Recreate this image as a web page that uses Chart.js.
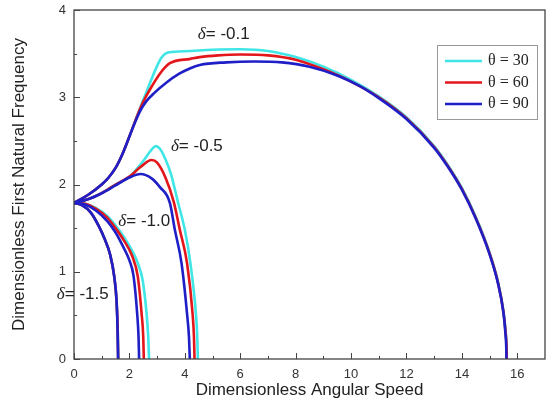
<!DOCTYPE html>
<html>
<head>
<meta charset="utf-8">
<script src="https://cdn.jsdelivr.net/npm/chart.js@4.4.0/dist/chart.umd.min.js"></script>
<style>
  html, body { margin: 0; padding: 0; background: #fff; }
  #wrap { width: 550px; height: 401px; }
</style>
</head>
<body>
<div id="wrap"><canvas id="freq-chart" width="550" height="401"></canvas></div>
<script>
// legend / curve labels
const thetaLabels = ['θ = 30', 'θ = 60', 'θ = 90'];
const deltaLabels = ['-0.1', '-0.5', '-1.0', '-1.5'];

// axis ticks
const xTicks = [0, 2, 4, 6, 8, 10, 12, 14, 16];
const xMinorTicks = [1, 3, 5, 7, 9, 11, 13, 15];
const yTicks = [0, 1, 2, 3, 4];
const yMinorTicks = [0.5, 1.5, 2.5, 3.5];

// delta = -0.1
const d01_t30_x = [0, 0.5, 1.0, 1.25, 1.5, 1.75, 2.0, 2.2, 2.4, 2.6, 2.8, 3.0, 3.15, 3.3, 3.6, 4.2, 5.0, 6.0, 7.0, 8.0, 9.0, 10.0, 11.0, 12.0, 13.0, 13.5, 14.0, 14.5, 15.0, 15.3, 15.5, 15.58, 15.61, 15.62];
const d01_t30_y = [1.79, 1.88, 2.0, 2.08, 2.19, 2.35, 2.55, 2.72, 2.89, 3.05, 3.21, 3.36, 3.45, 3.5, 3.52, 3.53, 3.545, 3.55, 3.53, 3.46, 3.35, 3.2, 3.01, 2.77, 2.44, 2.22, 1.96, 1.63, 1.22, 0.89, 0.55, 0.31, 0.16, 0];
const d01_t60_x = [0, 0.5, 1.0, 1.25, 1.5, 1.75, 2.0, 2.2, 2.4, 2.6, 2.8, 3.1, 3.46, 4.2, 4.54, 5.2, 6.0, 7.0, 8.0, 9.0, 10.0, 11.0, 12.0, 13.0, 13.5, 14.0, 14.5, 15.0, 15.3, 15.5, 15.58, 15.61, 15.62];
const d01_t60_y = [1.79, 1.88, 2.0, 2.08, 2.19, 2.35, 2.55, 2.72, 2.88, 3.01, 3.12, 3.27, 3.39, 3.44, 3.46, 3.48, 3.49, 3.48, 3.43, 3.32, 3.18, 3.0, 2.76, 2.43, 2.21, 1.95, 1.62, 1.21, 0.88, 0.54, 0.3, 0.15, 0];
const d01_t90_x = [0, 0.5, 1.0, 1.25, 1.5, 1.75, 2.0, 2.2, 2.4, 2.6, 2.9, 3.34, 3.8, 4.18, 4.54, 5.5, 6.5, 7.5, 8.5, 9.5, 10.3, 11.0, 12.0, 13.0, 13.5, 14.0, 14.5, 15.0, 15.3, 15.5, 15.57, 15.6, 15.61];
const d01_t90_y = [1.79, 1.88, 2.0, 2.08, 2.19, 2.35, 2.55, 2.71, 2.85, 2.95, 3.05, 3.17, 3.27, 3.33, 3.37, 3.40, 3.41, 3.40, 3.35, 3.25, 3.13, 2.99, 2.75, 2.42, 2.2, 1.94, 1.61, 1.2, 0.87, 0.53, 0.3, 0.15, 0];

// delta = -0.5
const d05_t30_x = [0, 0.5, 1.0, 1.5, 2.0, 2.5, 2.8, 2.95, 3.1, 3.3, 3.5, 3.75, 4.0, 4.2, 4.4, 4.45, 4.47];
const d05_t30_y = [1.79, 1.83, 1.9, 2.0, 2.09, 2.27, 2.4, 2.44, 2.41, 2.29, 2.12, 1.8, 1.48, 1.1, 0.52, 0.25, 0];
const d05_t60_x = [0, 0.5, 1.0, 1.5, 2.0, 2.4, 2.8, 3.0, 3.3, 3.6, 3.82, 4.08, 4.28, 4.33, 4.35];
const d05_t60_y = [1.79, 1.83, 1.9, 2.0, 2.09, 2.2, 2.28, 2.25, 2.08, 1.8, 1.48, 1.1, 0.52, 0.25, 0];
const d05_t90_x = [0, 0.5, 1.0, 1.5, 2.0, 2.4, 2.8, 3.1, 3.46, 3.64, 3.88, 4.08, 4.15, 4.18];
const d05_t90_y = [1.79, 1.83, 1.9, 1.99, 2.08, 2.12, 2.07, 1.97, 1.79, 1.48, 1.1, 0.52, 0.25, 0];

// delta = -1.0
const d10_t30_x = [0, 0.4, 0.8, 1.2, 1.5, 1.8, 2.1, 2.3, 2.48, 2.62, 2.68, 2.71];
const d10_t30_y = [1.79, 1.78, 1.73, 1.64, 1.53, 1.4, 1.24, 1.1, 0.9, 0.52, 0.25, 0];
const d10_t60_x = [0, 0.4, 0.8, 1.2, 1.5, 1.8, 2.1, 2.3, 2.44, 2.5, 2.52];
const d10_t60_y = [1.79, 1.78, 1.72, 1.62, 1.5, 1.36, 1.18, 0.95, 0.52, 0.25, 0];
const d10_t90_x = [0, 0.4, 0.8, 1.2, 1.5, 1.8, 2.0, 2.15, 2.28, 2.33, 2.35];
const d10_t90_y = [1.79, 1.77, 1.7, 1.58, 1.45, 1.27, 1.13, 0.95, 0.52, 0.25, 0];

// delta = -1.5
const d15_t30_x = [0, 0.3, 0.6, 0.9, 1.1, 1.3, 1.45, 1.54, 1.58, 1.6];
const d15_t30_y = [1.79, 1.76, 1.68, 1.52, 1.38, 1.2, 0.95, 0.64, 0.3, 0];
const d15_t60_x = [0, 0.3, 0.6, 0.9, 1.1, 1.3, 1.45, 1.54, 1.58, 1.595];
const d15_t60_y = [1.79, 1.76, 1.68, 1.52, 1.38, 1.2, 0.95, 0.64, 0.3, 0];
const d15_t90_x = [0, 0.3, 0.6, 0.9, 1.1, 1.3, 1.45, 1.54, 1.575, 1.59];
const d15_t90_y = [1.79, 1.76, 1.68, 1.52, 1.38, 1.2, 0.95, 0.64, 0.3, 0];

const thetaColors = ['#40e6e6', '#e3161c', '#1f1fc8'];

// where the delta labels sit (data coords, left edge / baseline)
const deltaLabelPos = [
    { x: 4.47, y: 3.67 },
    { x: 3.5, y: 2.38 },
    { x: 1.6, y: 1.52 },
    { x: -0.62, y: 0.69 }
];

function toPoints(xs, ys) {
    return xs.map(function(x, i) { return { x: x, y: ys[i] }; });
}

const curves = [
    [[d01_t30_x, d01_t30_y], [d01_t60_x, d01_t60_y], [d01_t90_x, d01_t90_y]],
    [[d05_t30_x, d05_t30_y], [d05_t60_x, d05_t60_y], [d05_t90_x, d05_t90_y]],
    [[d10_t30_x, d10_t30_y], [d10_t60_x, d10_t60_y], [d10_t90_x, d10_t90_y]],
    [[d15_t30_x, d15_t30_y], [d15_t60_x, d15_t60_y], [d15_t90_x, d15_t90_y]]
];

const datasets = [];
curves.forEach(function(group) {
    group.forEach(function(c, ti) {
        datasets.push({
            label: thetaLabels[ti],
            data: toPoints(c[0], c[1]),
            borderColor: thetaColors[ti],
            backgroundColor: thetaColors[ti],
            borderWidth: 2.6,
            pointRadius: 0,
            fill: false,
            cubicInterpolationMode: 'monotone',
            order: 3 - ti
        });
    });
});

const decorPlugin = {
    id: 'decor',
    afterDraw: function(chart) {
        const ctx = chart.ctx;
        const area = chart.chartArea;
        const xs = chart.scales.x;
        const ys = chart.scales.y;
        ctx.save();

        // frame
        ctx.strokeStyle = '#444';
        ctx.lineWidth = 1.3;
        ctx.strokeRect(area.left, area.top, area.right - area.left, area.bottom - area.top);

        // inward ticks
        ctx.beginPath();
        xTicks.forEach(function(v) {
            const px = Math.round(xs.getPixelForValue(v)) + 0.5;
            ctx.moveTo(px, area.bottom); ctx.lineTo(px, area.bottom - 6);
        });
        xMinorTicks.forEach(function(v) {
            const px = Math.round(xs.getPixelForValue(v)) + 0.5;
            ctx.moveTo(px, area.bottom); ctx.lineTo(px, area.bottom - 3);
        });
        yTicks.forEach(function(v) {
            const py = Math.round(ys.getPixelForValue(v)) + 0.5;
            ctx.moveTo(area.left, py); ctx.lineTo(area.left + 6, py);
        });
        yMinorTicks.forEach(function(v) {
            const py = Math.round(ys.getPixelForValue(v)) + 0.5;
            ctx.moveTo(area.left, py); ctx.lineTo(area.left + 3, py);
        });
        ctx.lineWidth = 1;
        ctx.stroke();

        // delta labels
        ctx.fillStyle = '#222';
        ctx.textBaseline = 'alphabetic';
        ctx.textAlign = 'left';
        deltaLabels.forEach(function(t, i) {
            const px = xs.getPixelForValue(deltaLabelPos[i].x);
            const py = ys.getPixelForValue(deltaLabelPos[i].y);
            ctx.font = 'italic 17px "Liberation Serif"';
            ctx.fillText('δ', px, py);
            const w = ctx.measureText('δ').width;
            ctx.font = '17px "Liberation Sans"';
            ctx.fillText('= ' + t, px + w, py);
        });

        // legend box
        const lx = 437, ly = 45, lw = 100, lh = 74;
        ctx.fillStyle = '#fff';
        ctx.fillRect(lx, ly, lw, lh);
        ctx.strokeStyle = '#999';
        ctx.lineWidth = 1;
        ctx.strokeRect(lx + 0.5, ly + 0.5, lw, lh);
        ctx.font = '16px "Liberation Serif"';
        ctx.textBaseline = 'middle';
        thetaLabels.forEach(function(t, i) {
            const rowY = ly + 16 + i * 21.5;
            ctx.strokeStyle = thetaColors[i];
            ctx.lineWidth = 2.6;
            ctx.beginPath();
            ctx.moveTo(lx + 8, rowY);
            ctx.lineTo(lx + 45, rowY);
            ctx.stroke();
            ctx.fillStyle = '#222';
            ctx.fillText(t, lx + 51, rowY);
        });
        ctx.restore();
    }
};

new Chart(document.getElementById('freq-chart'), {
    type: 'line',
    data: { datasets: datasets },
    options: {
        responsive: false,
        animation: false,
        events: [],
        layout: { padding: { top: 10, right: 5, left: 0, bottom: 0 } },
        plugins: {
            legend: { display: false },
            tooltip: { enabled: false }
        },
        scales: {
            x: {
                type: 'linear',
                min: 0,
                max: 17,
                afterFit: function(scale) {
                    scale.height = 42;
                    scale.paddingLeft = 0;
                    scale.paddingRight = 0;
                },
                afterBuildTicks: function(scale) {
                    scale.ticks = xTicks.map(function(v) { return { value: v }; });
                },
                grid: { display: false, drawTicks: false },
                border: { display: false },
                ticks: {
                    padding: 8,
                    color: '#333',
                    font: { family: '"Liberation Sans"', size: 13 }
                },
                title: {
                    display: true,
                    text: 'Dimensionless Angular Speed',
                    color: '#222',
                    font: { family: '"Liberation Sans"', size: 17 },
                    padding: { top: 0, bottom: 0 }
                }
            },
            y: {
                type: 'linear',
                min: 0,
                max: 4,
                afterFit: function(scale) {
                    scale.width = 74;
                    scale.paddingTop = 0;
                    scale.paddingBottom = 0;
                },
                afterBuildTicks: function(scale) {
                    scale.ticks = yTicks.map(function(v) { return { value: v }; });
                },
                grid: { display: false, drawTicks: false },
                border: { display: false },
                ticks: {
                    padding: 8,
                    color: '#333',
                    font: { family: '"Liberation Sans"', size: 13 }
                },
                title: {
                    display: true,
                    text: 'Dimensionless First Natural Frequency',
                    color: '#222',
                    font: { family: '"Liberation Sans"', size: 17 },
                    padding: { top: 9, bottom: 0 }
                }
            }
        }
    },
    plugins: [decorPlugin]
});
</script>
</body>
</html>
